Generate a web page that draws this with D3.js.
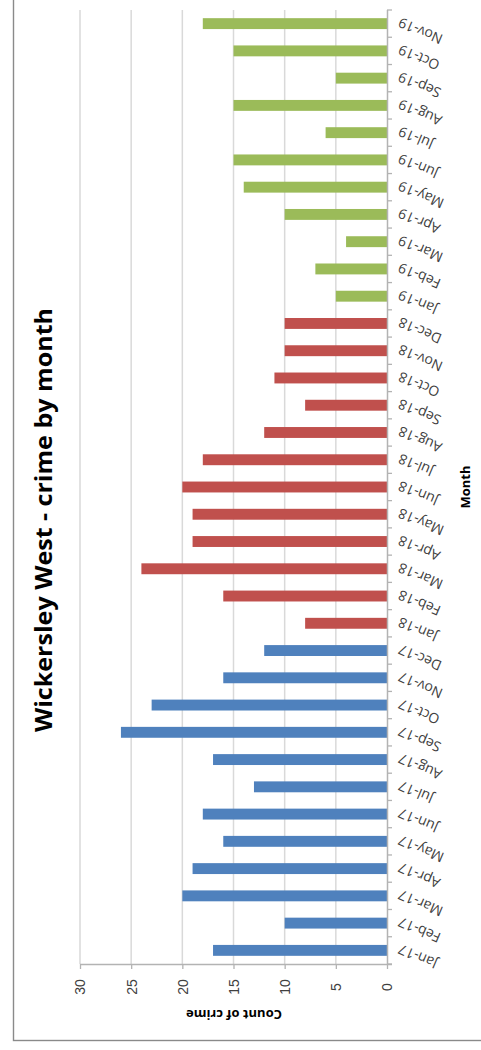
<!DOCTYPE html>
<html>
<head>
<meta charset="utf-8">
<script src="https://cdn.jsdelivr.net/npm/d3@7"></script>
<style>
  html, body { margin: 0; padding: 0; background: #fff; }
  svg { display: block; font-family: "Open Sans", "Liberation Sans", sans-serif; }
</style>
</head>
<body>
<svg id="chart" width="481" height="1050"></svg>
<script>
// Monthly crime counts, Wickersley West (Jan 2017 – Nov 2019)
const months = [
  "Jan-17","Feb-17","Mar-17","Apr-17","May-17","Jun-17","Jul-17","Aug-17","Sep-17","Oct-17","Nov-17","Dec-17",
  "Jan-18","Feb-18","Mar-18","Apr-18","May-18","Jun-18","Jul-18","Aug-18","Sep-18","Oct-18","Nov-18","Dec-18",
  "Jan-19","Feb-19","Mar-19","Apr-19","May-19","Jun-19","Jul-19","Aug-19","Sep-19","Oct-19","Nov-19"
];
const counts = [
  17,10,20,19,16,18,13,17,26,23,16,12,
  8,16,24,19,19,20,18,12,8,11,10,10,
  5,7,4,10,14,15,6,15,5,15,18
];
const years = ["17","18","19"];
const yearColors = ["#4f81bd","#c0504d","#9bbb59"];
const valueTicks = [0,5,10,15,20,25,30];

const title = "Wickersley West - crime by month";
const valueTitle = "Count of crime";
const categoryTitle = "Month";

const svg = d3.select("#chart");

// Chart is laid out turned on its side: values run right-to-left,
// months run bottom-to-top.
const plot = { left: 80, right: 387, top: 10, bottom: 964 };

const x = d3.scaleLinear().domain([0, 30]).range([plot.right, plot.left]);
const y = d3.scaleBand().domain(months).range([plot.bottom, plot.top])
  .paddingInner(0.6).paddingOuter(0.3);
const color = d3.scaleOrdinal().domain(years).range(yearColors);
const step = y.step();

// outer chart frame
svg.append("rect")
  .attr("x", 13.5).attr("y", -5)
  .attr("width", 520).attr("height", 1045.5)
  .attr("fill", "none").attr("stroke", "#8a8a8a").attr("stroke-width", 1.4);

// gridlines
svg.append("g").selectAll("line")
  .data(valueTicks.filter(d => d > 0))
  .join("line")
  .attr("x1", d => x(d)).attr("x2", d => x(d))
  .attr("y1", plot.top).attr("y2", plot.bottom)
  .attr("stroke", "#d9d9d9").attr("stroke-width", 1.5);

// bars
svg.append("g").selectAll("rect")
  .data(months.map((m, i) => ({ month: m, value: counts[i], year: m.slice(-2) })))
  .join("rect")
  .attr("x", d => x(d.value))
  .attr("y", d => y(d.month))
  .attr("width", d => x(0) - x(d.value))
  .attr("height", y.bandwidth())
  .attr("fill", d => color(d.year));

// value axis (along the bottom)
const vAxis = svg.append("g")
  .attr("transform", `translate(0,${plot.bottom})`)
  .call(d3.axisBottom(x).tickValues(valueTicks).tickSizeInner(5).tickSizeOuter(0));
vAxis.select(".domain").attr("stroke", "#b3b3b3").attr("stroke-width", 1.5)
  .attr("d", `M${plot.left},0.5H${plot.right + 5}`);
vAxis.selectAll(".tick line").attr("stroke", "#b3b3b3").attr("stroke-width", 1.3);
vAxis.selectAll(".tick text")
  .attr("x", 0).attr("y", 0).attr("dy", "0.35em")
  .attr("transform", "translate(0,23) rotate(-90)")
  .attr("text-anchor", "middle")
  .attr("fill", "#404040")
  .style("font-size", "14px");

// month axis (along the right)
const cAxis = svg.append("g");
cAxis.append("line")
  .attr("x1", plot.right + 0.5).attr("x2", plot.right + 0.5)
  .attr("y1", plot.top).attr("y2", plot.bottom)
  .attr("stroke", "#b3b3b3").attr("stroke-width", 1.5);
const bounds = months.map(m => y(m) - (step - y.bandwidth()) / 2);
bounds.push(y(months[0]) + y.bandwidth() + (step - y.bandwidth()) / 2);
cAxis.selectAll("line.tk")
  .data(bounds)
  .join("line").attr("class", "tk")
  .attr("x1", plot.right).attr("x2", plot.right + 5)
  .attr("y1", d => d).attr("y2", d => d)
  .attr("stroke", "#b3b3b3").attr("stroke-width", 1.3);
cAxis.selectAll("text")
  .data(months)
  .join("text")
  .attr("transform", d => `translate(${plot.right + 14},${y(d) + y.bandwidth() / 2 - 6.5}) rotate(-157)`)
  .attr("text-anchor", "end")
  .attr("fill", "#404040")
  .style("font-size", "14px")
  .text(d => d);

// titles
svg.append("text")
  .attr("transform", "translate(44,520) rotate(-90)")
  .attr("text-anchor", "middle").attr("dy", "0.35em")
  .attr("textLength", 424).attr("lengthAdjust", "spacingAndGlyphs")
  .attr("fill", "#000").style("font-size", "23px").style("font-weight", "bold")
  .text(title);

svg.append("text")
  .attr("transform", "translate(465,487) rotate(-90)")
  .attr("text-anchor", "middle").attr("dy", "0.35em")
  .attr("fill", "#000").style("font-size", "13px").style("font-weight", "bold")
  .text(categoryTitle);

svg.append("text")
  .attr("transform", "translate(234,1015) rotate(180)")
  .attr("text-anchor", "middle").attr("dy", "0.35em")
  .attr("fill", "#000").style("font-size", "13px").style("font-weight", "bold")
  .text(valueTitle);
</script>
</body>
</html>
